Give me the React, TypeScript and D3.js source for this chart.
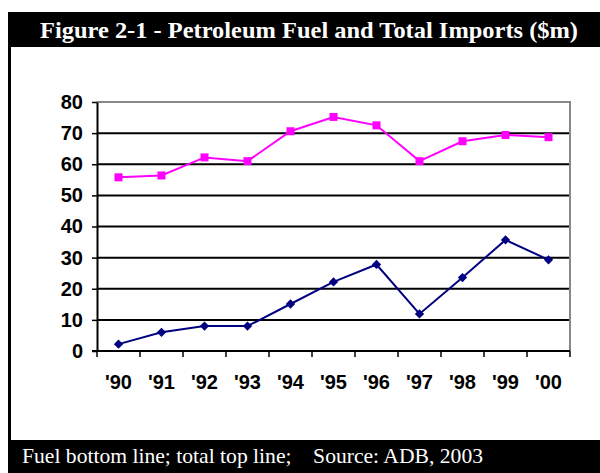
import React, { useEffect, useRef } from 'react';
import * as d3 from 'd3';

const years = ["'90", "'91", "'92", "'93", "'94", "'95", "'96", "'97", "'98", "'99", "'00"];
const fuel = [2.2, 6.0, 8.0, 8.0, 15.1, 22.2, 27.8, 11.9, 23.6, 35.7, 29.3];
const total = [55.8, 56.4, 62.2, 61.0, 70.6, 75.2, 72.5, 61.0, 67.4, 69.4, 68.7];
const yTicks = [0, 10, 20, 30, 40, 50, 60, 70, 80];

const titleText = 'Figure 2-1 - Petroleum Fuel and Total Imports ($m)';
const footerText = 'Fuel bottom line; total top line;\u00a0\u00a0\u00a0\u00a0Source: ADB, 2003';

const W = 600;
const H = 473;

const App: React.FC = () => {
  const svgRef = useRef<SVGSVGElement>(null);

  useEffect(() => {
    if (!svgRef.current) return;
    const svg = d3.select(svgRef.current);
    svg.selectAll('*').remove();

    const left = 97;
    const right = 570;
    const top = 102;
    const bottom = 351;

    // frame, title bar and footer bar
    svg.append('rect').attr('x', 0).attr('y', 0).attr('width', W).attr('height', H).attr('fill', '#fff');
    svg.append('rect').attr('x', 8).attr('y', 12).attr('width', W - 8).attr('height', 35).attr('fill', '#000');
    svg.append('rect').attr('x', 8).attr('y', 440).attr('width', W - 8).attr('height', H - 440).attr('fill', '#000');
    svg.append('line').attr('x1', 9.5).attr('x2', 9.5).attr('y1', 46).attr('y2', 441)
      .attr('stroke', '#000').attr('stroke-width', 3);

    // the original text is a bit stretched, so fit it to its measured width
    svg.append('text')
      .attr('x', 40).attr('y', 38)
      .attr('textLength', 538)
      .attr('lengthAdjust', 'spacingAndGlyphs')
      .attr('fill', '#fff')
      .style('font-family', '"Liberation Serif", "Times New Roman", serif')
      .style('font-weight', 'bold')
      .style('font-size', '23px')
      .text(titleText);

    svg.append('text')
      .attr('x', 22).attr('y', 463)
      .attr('textLength', 461)
      .attr('lengthAdjust', 'spacingAndGlyphs')
      .attr('fill', '#fff')
      .style('font-family', '"Liberation Serif", "Times New Roman", serif')
      .style('font-size', '21px')
      .text(footerText);

    const x = d3.scaleBand().domain(years).range([left, right]);
    const y = d3.scaleLinear().domain([0, 80]).range([bottom, top]);

    // gridlines
    svg.append('g')
      .selectAll('line')
      .data(yTicks.filter((t) => t > 0 && t < 80))
      .enter()
      .append('line')
      .attr('x1', left).attr('x2', right)
      .attr('y1', (d) => y(d)).attr('y2', (d) => y(d))
      .attr('stroke', '#000').attr('stroke-width', 2);

    // plot border top / right (grey)
    svg.append('path')
      .attr('d', `M${left},${y(80)}H${right}V${bottom}`)
      .attr('fill', 'none').attr('stroke', '#888').attr('stroke-width', 2);

    // y axis
    const yAxis = svg.append('g')
      .attr('transform', `translate(${left},0)`)
      .call(d3.axisLeft(y).tickValues(yTicks).tickSize(5).tickPadding(9).tickSizeOuter(0));
    yAxis.select('.domain').attr('stroke', '#000').attr('stroke-width', 2);
    yAxis.selectAll('.tick line').attr('stroke', '#000').attr('stroke-width', 1.5);
    yAxis.selectAll('text')
      .attr('fill', '#000')
      .style('font-family', '"Liberation Sans", Arial, sans-serif')
      .style('font-weight', 'bold')
      .style('font-size', '20px');

    // x axis line with boundary ticks
    svg.append('line')
      .attr('x1', left - 5).attr('x2', right)
      .attr('y1', bottom).attr('y2', bottom)
      .attr('stroke', '#000').attr('stroke-width', 2);
    const bounds = years.map((d) => x(d) as number).concat([right]);
    svg.append('g')
      .selectAll('line')
      .data(bounds)
      .enter()
      .append('line')
      .attr('x1', (d) => d).attr('x2', (d) => d)
      .attr('y1', bottom).attr('y2', bottom + 6)
      .attr('stroke', '#000').attr('stroke-width', 1.5);
    svg.append('g')
      .selectAll('text')
      .data(years)
      .enter()
      .append('text')
      .attr('x', (d) => (x(d) as number) + x.bandwidth() / 2)
      .attr('y', 389)
      .attr('text-anchor', 'middle')
      .attr('fill', '#000')
      .style('font-family', '"Liberation Sans", Arial, sans-serif')
      .style('font-weight', 'bold')
      .style('font-size', '20px')
      .text((d) => d);

    const cx = (i: number) => (x(years[i]) as number) + x.bandwidth() / 2;
    const line = d3.line<number>().x((_, i) => cx(i)).y((d) => y(d));

    // total imports (magenta squares)
    svg.append('path').datum(total).attr('d', line)
      .attr('fill', 'none').attr('stroke', '#ff00ff').attr('stroke-width', 2);
    svg.append('g').selectAll('rect').data(total).enter().append('rect')
      .attr('x', (_, i) => cx(i) - 4).attr('y', (d) => y(d) - 4)
      .attr('width', 8).attr('height', 8)
      .attr('fill', '#ff00ff');

    // petroleum fuel (navy diamonds)
    svg.append('path').datum(fuel).attr('d', line)
      .attr('fill', 'none').attr('stroke', '#000080').attr('stroke-width', 2);
    svg.append('g').selectAll('path.dia').data(fuel).enter().append('path')
      .attr('class', 'dia')
      .attr('d', d3.symbol().type(d3.symbolDiamond2).size(55))
      .attr('transform', (d, i) => `translate(${cx(i)},${y(d)})`)
      .attr('fill', '#000080');
  }, []);

  return (
    <svg
      ref={svgRef}
      width={W}
      height={H}
      style={{ position: 'absolute', left: 0, top: 0, display: 'block' }}
    />
  );
};

export default App;
